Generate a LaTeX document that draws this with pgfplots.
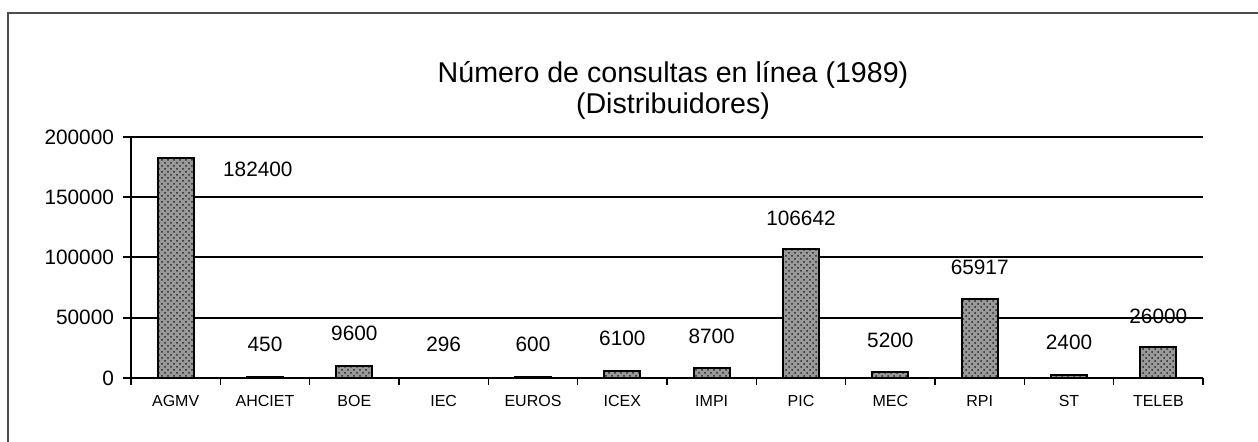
\documentclass[border=0pt]{standalone}
\usepackage{fontspec}
\setmainfont{Liberation Sans}
\usepackage{pgfplots}
\pgfplotsset{compat=1.18}
\usepackage{pgfplotstable}
\usetikzlibrary{patterns}

\pgfplotstableread{
x y
0 182400
1 450
2 9600
3 296
4 600
5 6100
6 8700
7 106642
8 5200
9 65917
10 2400
11 26000
}\bars

\pgfplotstableread{
x y label
0.92 173000 182400
1 27800 450
2 36700 9600
3 27800 296
4 27800 600
5 33300 6100
6 34900 8700
7 132200 106642
8 31300 5200
9 92100 65917
10 29300 2400
11 51500 26000
}\labels

\begin{document}
\begin{tikzpicture}
\path[use as bounding box] (0pt,0pt) rectangle (629pt,221pt);
\draw[line width=1pt, black!70] (4.2pt,0pt) -- (4.2pt,214.5pt) -- (629pt,214.5pt);
\node[align=center, font=\fontsize{14.3}{15.5}\selectfont] at (336.5pt,176pt)
  {Número de consultas en línea (1989)\\(Distribuidores)};
\begin{axis}[
  at={(65.5pt,32pt)}, anchor=south west,
  scale only axis, width=536pt, height=120.5pt,
  xmin=-0.5, xmax=11.5, ymin=0, ymax=200000,
  scaled y ticks=false,
  axis x line=bottom, axis y line=left,
  axis line style={-, line width=1pt, black},
  xtick={0,...,11},
  xticklabels={AGMV,AHCIET,BOE,IEC,EUROS,ICEX,IMPI,PIC,MEC,RPI,ST,TELEB},
  major x tick style={draw=none},
  minor xtick={-0.5,0.5,...,11.5},
  minor tick length=3.5pt,
  minor x tick style={line width=0.8pt, black},
  ytick={0,50000,100000,150000,200000},
  yticklabels={0,50000,100000,150000,200000},
  major tick length=4pt,
  major y tick style={line width=1pt, black},
  tick align=outside,
  ymajorgrids, grid style={line width=1pt, black},
  /pgf/number format/assume math mode=true,
  xticklabel style={font=\fontsize{8}{9}\selectfont, yshift=-1pt},
  yticklabel style={font=\fontsize{10.4}{12}\selectfont, xshift=-1pt},
  clip=false,
]
\addplot[ybar, bar width=18pt, draw=black, line width=1pt, fill=black!40,
  postaction={pattern=crosshatch dots, pattern color=black!85}]
  table[x=x, y=y] {\bars};
\addplot[only marks, mark=none, nodes near coords, point meta=explicit symbolic,
  nodes near coords style={anchor=center, font=\fontsize{10.4}{12}\selectfont}]
  table[x=x, y=y, meta=label] {\labels};
\end{axis}
\end{tikzpicture}
\end{document}
